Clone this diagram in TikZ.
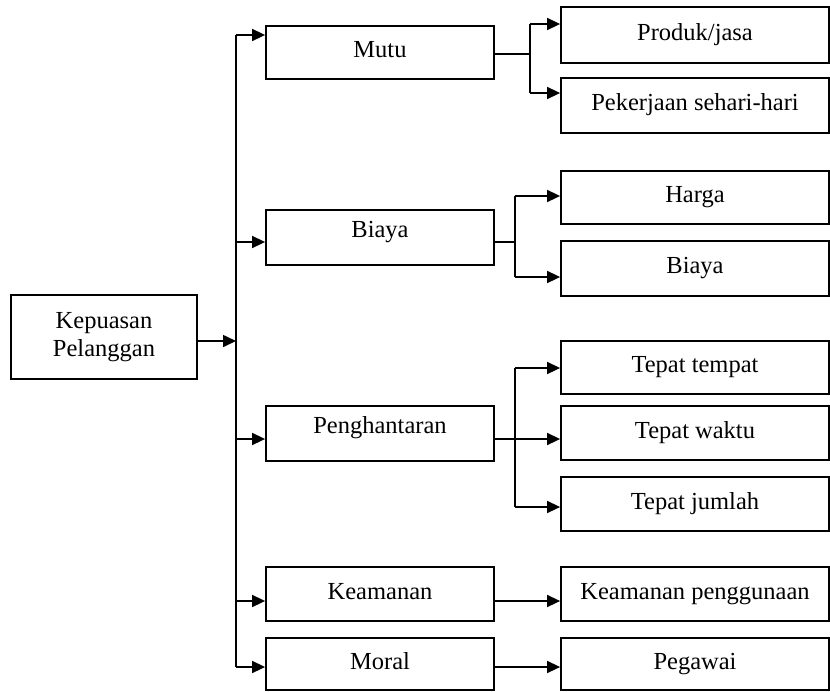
\documentclass[tikz,border=0pt]{standalone}
\usepackage{fontspec}
\setmainfont{Liberation Serif}
\usetikzlibrary{arrows.meta}
\begin{document}
\begin{tikzpicture}[x=1pt,y=-1pt,
  box/.style={draw, line width=1.8pt, inner sep=0pt, font=\fontsize{24.5}{28}\selectfont,
    text height=16pt, text depth=6pt},
  midbox/.style={box, minimum width=228pt},
  rbox/.style={box, minimum width=268pt},
  low/.style={text height=16pt, text depth=16pt},
  conn/.style={line width=1.6pt},
  arr/.style={conn, -{Triangle[length=13pt,width=12pt]}}]
\useasboundingbox (0,0) rectangle (830,691);

% root
\node[draw, line width=1.8pt, inner sep=0pt, minimum width=186pt, minimum height=84pt,
      align=center, font=\fontsize{24.5}{28}\selectfont] (root) at (104,337) {Kepuasan\\Pelanggan};

% middle boxes
\node[midbox, minimum height=53pt] (mutu) at (380,52.5) {Mutu};
\node[midbox, low, minimum height=55pt] (biaya) at (380,237.5) {Biaya};
\node[midbox, low, minimum height=55pt] (peng) at (380,433.5) {Penghantaran};
\node[midbox, minimum height=54pt] (keam) at (380,594) {Keamanan};
\node[midbox, minimum height=52pt] (moral) at (380,664) {Moral};

% right boxes
\node[rbox, minimum height=56pt] (produk) at (695,35) {Produk/jasa};
\node[rbox, minimum height=55pt] (pekerjaan) at (695,105.5) {Pekerjaan sehari-hari};
\node[rbox, minimum height=53pt] (harga) at (695,197.5) {Harga};
\node[rbox, minimum height=55pt] (biaya2) at (695,268.5) {Biaya};
\node[rbox, minimum height=53pt] (tempat) at (695,367.5) {Tepat tempat};
\node[rbox, minimum height=54pt] (waktu) at (695,433) {Tepat waktu};
\node[rbox, minimum height=54pt] (jumlah) at (695,504) {Tepat jumlah};
\node[rbox, minimum height=54pt] (guna) at (695,594) {Keamanan penggunaan};
\node[rbox, minimum height=52pt] (pegawai) at (695,664) {Pegawai};

% bus from root
\coordinate (rootout) at ([yshift=-4pt]root.east);
\coordinate (bus) at (236,341);
\coordinate (btop) at (236,35);
\coordinate (bbiaya) at (236,242);
\coordinate (bpeng) at (236,439);
\coordinate (bkeam) at (236,601);
\coordinate (bmoral) at (236,667);
\draw[arr] (rootout) -- (rootout -| bus);
\draw[conn] (btop) -- (bmoral);
\draw[arr] (btop) -- (mutu.west |- btop);
\draw[arr] (bbiaya) -- (biaya.west |- bbiaya);
\draw[arr] (bpeng) -- (peng.west |- bpeng);
\draw[arr] (bkeam) -- (keam.west |- bkeam);
\draw[arr] (bmoral) -- (moral.west |- bmoral);

% Mutu branch
\coordinate (mo) at ([yshift=-1.5pt]mutu.east);
\coordinate (mj) at (530,54);
\coordinate (m1) at (530,24);
\coordinate (m2) at (530,93);
\draw[conn] (mo) -- (mj);
\draw[conn] (m1) -- (m2);
\draw[arr] (m1) -- (produk.west |- m1);
\draw[arr] (m2) -- (pekerjaan.west |- m2);

% Biaya branch
\coordinate (bo) at ([yshift=-4.5pt]biaya.east);
\coordinate (bj) at (515,242);
\coordinate (b1) at (515,196);
\coordinate (b2) at (515,277);
\draw[conn] (bo) -- (bj);
\draw[conn] (b1) -- (b2);
\draw[arr] (b1) -- (harga.west |- b1);
\draw[arr] (b2) -- (biaya2.west |- b2);

% Penghantaran branch
\coordinate (po) at ([yshift=-5.5pt]peng.east);
\coordinate (p1) at (515,368);
\coordinate (p3) at (515,507);
\draw[arr] (po) -- (waktu.west |- po);
\draw[conn] (p1) -- (p3);
\draw[arr] (p1) -- (tempat.west |- p1);
\draw[arr] (p3) -- (jumlah.west |- p3);

% Keamanan and Moral
\draw[arr] ([yshift=-7pt]keam.east) -- ([yshift=-7pt]guna.west);
\draw[arr] ([yshift=-3pt]moral.east) -- ([yshift=-3pt]pegawai.west);
\end{tikzpicture}
\end{document}
